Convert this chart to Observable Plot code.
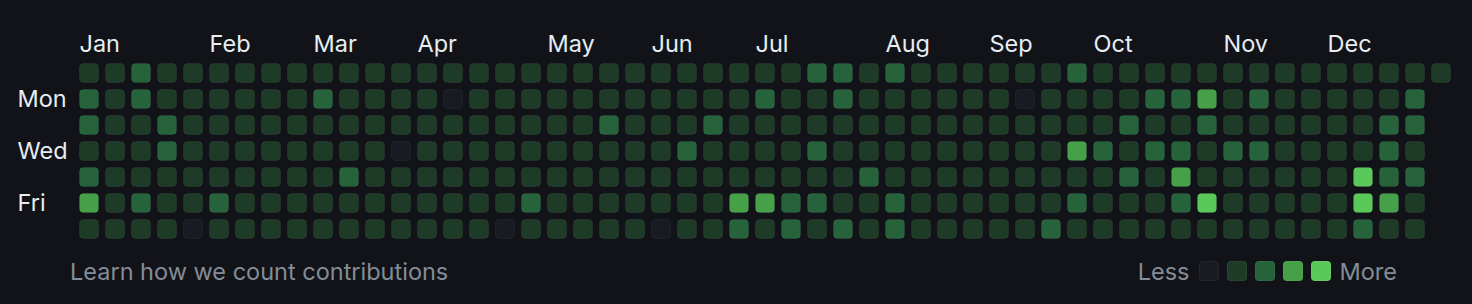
<!DOCTYPE html>
<html>
<head>
<meta charset="utf-8">
<script src="https://cdn.jsdelivr.net/npm/d3@7"></script>
<script src="https://cdn.jsdelivr.net/npm/@observablehq/plot@0.6"></script>
<style>
  html, body { margin: 0; padding: 0; background: #111318; overflow: hidden; }
  body { width: 1472px; height: 304px; font-family: Inter, "Noto Sans", sans-serif; }
  #chart svg { display: block; }
  .footer { height: 46px; display: flex; align-items: center; justify-content: space-between; padding: 0 75px 0 70px; box-sizing: border-box; }
  .learn { color: #848d97; font-size: 23.5px; }
  .legend { display: flex; align-items: center; color: #848d97; font-size: 23.5px; }
  .legend .sw { width: 20px; height: 20px; border-radius: 4px; margin-right: 8px; box-sizing: border-box; border: 1px solid rgba(255,255,255,0.05); }
  .legend .less { margin-right: 9px; }
  .legend .more { margin-left: 1px; }
</style>
</head>
<body>
<div id="chart"></div>
<div class="footer">
  <div class="learn">Learn how we count contributions</div>
  <div class="legend" id="legend"></div>
</div>
<script>
// Month labels and the week column where each starts
const monthLabels = ["Jan","Feb","Mar","Apr","May","Jun","Jul","Aug","Sep","Oct","Nov","Dec"];
const monthWeeks  = [0, 5, 9, 13, 18, 22, 26, 31, 35, 39, 44, 48];

// Weekday row labels
const dayLabels = ["Mon", "Wed", "Fri"];
const dayRows   = [1, 3, 5];

// Contribution levels (0-4) per weekday, one value per week column
const sun = [1,1,2,1,1,1,1,1,1,1, 1,1,1,1,1,1,1,1,1,1, 1,1,1,1,1,1,1,1,2,2, 1,2,1,1,1,1,1,1,2,1, 1,1,1,1,1,1,1,1,1,1, 1,1,1];
const mon = [2,1,2,1,1,1,1,1,1,2, 1,1,1,1,0,1,1,1,1,1, 1,1,1,1,1,1,2,1,1,2, 1,1,1,1,1,1,0,1,1,1, 1,2,2,3,1,2,1,1,1,1, 1,2];
const tue = [2,1,1,2,1,1,1,1,1,1, 1,1,1,1,1,1,1,1,1,1, 2,1,1,1,2,1,1,1,1,1, 1,1,1,1,1,1,1,1,1,1, 2,1,1,2,1,1,1,1,1,1, 2,2];
const wed = [1,1,1,2,1,1,1,1,1,1, 1,1,0,1,1,1,1,1,1,1, 1,1,1,2,1,1,1,1,2,1, 1,1,1,1,1,1,1,1,3,2, 1,2,2,1,2,2,1,1,1,1, 2,1];
const thu = [2,1,1,1,1,1,1,1,1,1, 2,1,1,1,1,1,1,1,1,1, 1,1,1,1,1,1,1,1,1,1, 2,1,1,1,1,1,1,1,1,1, 2,1,3,1,1,1,1,1,1,4, 2,2];
const fri = [3,1,2,1,1,2,1,1,1,1, 1,1,1,1,1,1,1,2,1,1, 1,1,1,1,1,3,3,2,2,1, 1,2,1,1,1,1,1,1,2,1, 1,1,2,4,1,1,1,1,1,4, 3,1];
const sat = [1,1,1,1,0,1,1,1,1,1, 1,1,1,1,1,1,0,1,1,1, 1,1,0,1,1,2,1,2,1,2, 1,2,1,1,1,1,1,2,1,1, 1,1,1,1,1,1,1,1,1,2, 1,1];

const levels = [0, 1, 2, 3, 4];
const palette = ["#181b21", "#1e3b27", "#27633a", "#46a048", "#5bc95a"];

const weekRows = [sun, mon, tue, wed, thu, fri, sat];
const cells = weekRows.flatMap((arr, day) => arr.map((level, week) => ({week, day, level})));

const chart = Plot.plot({
  width: 1472,
  height: 248,
  marginLeft: 79,
  marginRight: 21,
  marginTop: 63,
  marginBottom: 9,
  x: {type: "band", domain: d3.range(53), paddingInner: 6/26, paddingOuter: 0, round: false, axis: null},
  y: {type: "band", domain: d3.range(7), paddingInner: 6/26, paddingOuter: 0, round: false, axis: null},
  color: {type: "ordinal", domain: levels, range: palette},
  style: {background: "transparent", fontFamily: "Inter, 'Noto Sans', sans-serif", overflow: "visible"},
  marks: [
    Plot.cell(cells, {x: "week", y: "day", fill: "level", rx: 4, inset: 0.5, stroke: "rgba(255,255,255,0.05)", strokeWidth: 1}),
    Plot.text(monthLabels, {x: monthWeeks, text: d => d, frameAnchor: "top", lineAnchor: "middle", dy: -19, dx: -10, textAnchor: "start", fill: "#e6edf3", fontSize: 23.5}),
    Plot.text(dayLabels, {y: dayRows, text: d => d, frameAnchor: "left", lineAnchor: "middle", dx: -62, textAnchor: "start", fill: "#e6edf3", fontSize: 23.5})
  ]
});
document.getElementById("chart").append(chart);

// Legend: Less [swatches] More
const legend = document.getElementById("legend");
const less = document.createElement("span"); less.className = "less"; less.textContent = "Less"; legend.append(less);
levels.forEach(l => {
  const s = document.createElement("span");
  s.className = "sw";
  s.style.background = palette[l];
  legend.append(s);
});
const more = document.createElement("span"); more.className = "more"; more.textContent = "More"; legend.append(more);
</script>
</body>
</html>
